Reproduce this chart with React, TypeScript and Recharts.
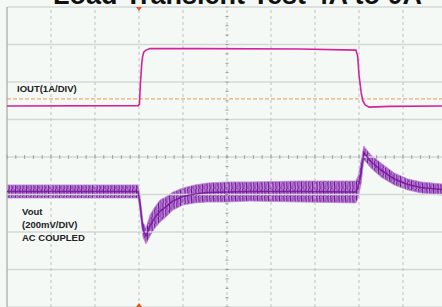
import React from "react";
import {
  ComposedChart,
  Line,
  Area,
  XAxis,
  YAxis,
  ReferenceLine,
  ReferenceDot,
} from "recharts";

// time axis is in scope divisions (10 div across the screen)
const ioutTime = [0, 2.98, 3.01, 3.03, 3.06, 3.08, 3.11, 3.16, 3.25, 4.39, 6.66, 7.93, 7.97, 8.0, 8.05, 8.09, 8.14, 8.23, 8.7, 9.89];
const ioutAmps = [-0.19, -0.18, -0.14, 0.37, 0.9, 1.12, 1.25, 1.3, 1.34, 1.34, 1.33, 1.3, 1.14, 0.64, 0.16, -0.06, -0.16, -0.22, -0.2, -0.19];

// Vout (AC coupled, mV) — noise envelope
const voutTime = [0, 0.98, 2, 2.98, 3.02, 3.09, 3.16, 3.25, 3.36, 3.48, 3.61, 3.77, 4, 4.27, 4.55, 5, 5.52, 6.66, 7.93, 7.98, 8.05, 8.11, 8.18, 8.27, 8.5, 8.8, 9.11, 9.41, 9.89];
const voutLow = [-19, -19, -19, -19, -83, -227, -264, -221, -179, -147, -120, -83, -56, -45, -40, -40, -35, -40, -45, -19, 61, 184, 168, 141, 93, 51, 24, 8, -3];
const voutHigh = [51, 51, 51, 51, -3, -147, -179, -109, -67, -29, -13, 13, 35, 51, 61, 67, 67, 72, 72, 99, 184, 259, 237, 211, 168, 115, 83, 67, 56];

const gridX = [0, 1, 2, 3, 4, 5, 6, 7, 8, 9, 10];
const gridY = [-4, -3, -2, -1, 0, 1, 2, 3, 4];
const minorX = Array.from({ length: 51 }, (_, i) => i * 0.2);
const minorY = Array.from({ length: 33 }, (_, i) => -4 + i * 0.25);

const triggerTime = 3;

const ioutData = ioutTime.map((t, i) => ({ t, amps: ioutAmps[i] }));
const voutData = voutTime.map((t, i) => ({
  t,
  band: [voutLow[i], voutHigh[i]],
  mid: (voutLow[i] + voutHigh[i]) / 2,
}));

const BG = "#f5f9f6";
const IOUT_COLOR = "#d4239c";
const VOUT_DARK = "#76169a";
const VOUT_LIGHT = "#bb8ad6";

const TriangleDown = (props: any) => {
  const { cx, cy } = props;
  return <path d={`M${cx - 3},${cy} L${cx + 3},${cy} L${cx},${cy + 4} Z`} fill="#e05a1a" />;
};
const TriangleUp = (props: any) => {
  const { cx, cy } = props;
  return <path d={`M${cx - 3},${cy} L${cx + 3},${cy} L${cx},${cy - 4} Z`} fill="#e05a1a" />;
};

const labelStyle: React.CSSProperties = {
  position: "absolute",
  fontFamily: "'Liberation Sans', Arial, sans-serif",
  fontWeight: 700,
  fontSize: 9.5,
  lineHeight: "13px",
  color: "#222",
  whiteSpace: "nowrap",
};

export default function App() {
  return (
    <div
      style={{
        position: "fixed",
        left: 0,
        top: 0,
        width: 442,
        height: 307,
        overflow: "hidden",
        background: BG,
      }}
    >
      <ComposedChart width={460} height={310} margin={{ top: 7, right: 13, bottom: 3, left: 7 }}>
        <defs>
          <pattern id="scopeNoise" width={11} height={7} patternUnits="userSpaceOnUse">
            <rect width={11} height={7} fill={VOUT_LIGHT} />
            <line x1={0.6} y1={0} x2={1.2} y2={7} stroke={VOUT_DARK} strokeWidth={1.1} />
            <line x1={2.8} y1={0} x2={2.4} y2={7} stroke="#9b4cba" strokeWidth={0.8} />
            <line x1={4.3} y1={0} x2={4.9} y2={7} stroke={VOUT_DARK} strokeWidth={1.3} />
            <line x1={7.1} y1={0} x2={6.7} y2={7} stroke="#8a34ae" strokeWidth={0.9} />
            <line x1={8.8} y1={0} x2={9.3} y2={7} stroke={VOUT_DARK} strokeWidth={1.1} />
          </pattern>
        </defs>
        <XAxis type="number" dataKey="t" domain={[0, 10]} allowDataOverflow hide />
        <YAxis yAxisId="div" type="number" domain={[-4, 4]} allowDataOverflow hide />
        <YAxis yAxisId="iout" type="number" domain={[-5.55, 2.45]} allowDataOverflow hide />
        <YAxis yAxisId="vout" type="number" domain={[-600, 1000]} allowDataOverflow hide />

        {gridY.map((v) => (
          <ReferenceLine key={`h${v}`} yAxisId="div" y={v} stroke="#d4d8d5" strokeWidth={1.5} />
        ))}
        {gridX.map((v) => (
          <ReferenceLine
            key={`v${v}`}
            yAxisId="div"
            x={v}
            stroke={v === 0 ? "#b5b8b5" : "#bec1be"}
            strokeWidth={v === 0 ? 1.5 : 1}
            strokeDasharray={v === 0 ? undefined : "3 3"}
          />
        ))}
        {minorX.map((v) => (
          <ReferenceLine
            key={`mx${v}`}
            yAxisId="div"
            segment={[{ x: v, y: -0.05 }, { x: v, y: 0.05 }]}
            stroke="#9a9d9a"
          />
        ))}
        {minorY.map((v) => (
          <ReferenceLine
            key={`my${v}`}
            yAxisId="div"
            segment={[{ x: 4.965, y: v }, { x: 5.035, y: v }]}
            stroke="#9a9d9a"
          />
        ))}

        <ReferenceLine yAxisId="iout" y={0} stroke="#e8995a" strokeDasharray="4 2" strokeWidth={1} />

        <Area
          yAxisId="vout"
          data={voutData}
          dataKey="band"
          type="linear"
          stroke={VOUT_LIGHT}
          strokeWidth={0.8}
          fill="url(#scopeNoise)"
          fillOpacity={1}
          isAnimationActive={false}
        />
        <Line
          yAxisId="vout"
          data={voutData}
          dataKey="mid"
          type="linear"
          stroke={VOUT_DARK}
          strokeWidth={1.6}
          strokeOpacity={0.85}
          dot={false}
          isAnimationActive={false}
        />
        <Line
          yAxisId="iout"
          data={ioutData}
          dataKey="amps"
          type="linear"
          stroke={IOUT_COLOR}
          strokeWidth={1.6}
          dot={false}
          isAnimationActive={false}
        />

        <ReferenceDot yAxisId="div" x={triggerTime} y={4} r={3} shape={<TriangleDown />} />
        <ReferenceDot yAxisId="div" x={triggerTime} y={-4} r={3} shape={<TriangleUp />} />
      </ComposedChart>

      <div
        style={{
          position: "absolute",
          left: 53,
          top: -18,
          fontFamily: "'Liberation Sans', Arial, sans-serif",
          fontWeight: 700,
          fontSize: 27,
          lineHeight: "27px",
          color: "#111",
          whiteSpace: "nowrap",
        }}
      >
        Load Transient Test 4A to 0A
      </div>

      <div style={{ ...labelStyle, left: 17, top: 82 }}>IOUT(1A/DIV)</div>
      <div style={{ ...labelStyle, left: 22, top: 204.7 }}>
        Vout
        <br />
        (200mV/DIV)
        <br />
        AC COUPLED
      </div>
    </div>
  );
}
